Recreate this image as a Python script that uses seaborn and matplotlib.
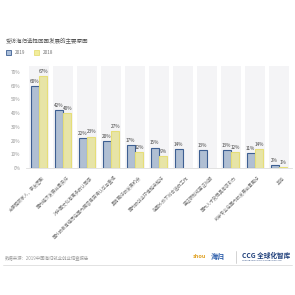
import numpy as np
import pandas as pd
import seaborn as sns
import matplotlib.pyplot as plt
import matplotlib.transforms as mtransforms

# dados do grafico
reasons = ['方便照顾家人，亲友团聚', '国内经济发展前景良好', '对中国文化有更多的认同感',
           '国外的教育经历在国内更容易获得认可与重视', '具有更好的发展机会', '国内的创业环境越来越好',
           '在国外找不到合适的工作', '签证限制或签证到期', '国内人才政策具有吸引力',
           '所学专业在国内的发展前景更好', '其他']
years = ['2019', '2018']
pct_2019 = [60, 42, 22, 20, 17, 15, 14, 13, 13, 11, 2]
pct_2018 = [67, 40, 23, 27, 12, 9, np.nan, np.nan, 12, 14, 1]
y_ticks = [0, 10, 20, 30, 40, 50, 60, 70]

df = pd.DataFrame({
    'reason': reasons * 2,
    'year': [years[0]] * len(reasons) + [years[1]] * len(reasons),
    'pct': pct_2019 + pct_2018,
})

sns.set_theme(style='white')
plt.rcParams['font.family'] = ['Noto Sans CJK SC', 'DejaVu Sans']

fills = ['#aabed9', '#f2ed9c']
edges = ['#3d5f92', '#e6de78']

fig = plt.figure(figsize=(2.95, 2.95), dpi=100)
ax = fig.add_axes([0.088, 0.43, 0.902, 0.345])

# faixas cinza atras de cada categoria
for i in range(len(reasons)):
    ax.axvspan(i - 0.42, i + 0.42, color='#f4f4f6', zorder=0, lw=0)

sns.barplot(data=df, x='reason', y='pct', hue='year', palette=fills,
            width=0.72, gap=0.08, ax=ax, legend=False, zorder=2)

for cont, ec in zip(ax.containers, edges):
    for p in cont:
        if p is None:
            continue
        p.set_edgecolor(ec)
        p.set_linewidth(0.8)
        h = p.get_height()
        if np.isnan(h):
            continue
        ax.annotate(f'{int(round(h))}%', (p.get_x() + p.get_width() / 2, h),
                    xytext=(0, 1.5), textcoords='offset points', ha='center', va='bottom',
                    fontsize=3.4, color='#444444')

ax.set_xlim(-0.55, len(reasons) - 0.45)
ax.set_ylim(0, 74)
ax.set_yticks(y_ticks)
ax.set_yticklabels([f'{t}%' for t in y_ticks], fontsize=3.4, color='#999999')
ax.set_xticks(range(len(reasons)))
ax.set_xticklabels(reasons, rotation=45, ha='right', rotation_mode='anchor',
                   fontsize=3.2, color='#777777')
ax.tick_params(axis='x', length=0, pad=5)
ax.tick_params(axis='y', length=0, pad=4)
shift = mtransforms.ScaledTranslation(3 / 100, 0, fig.dpi_scale_trans)
for lab in ax.get_xticklabels():
    lab.set_transform(lab.get_transform() + shift)
ax.set_xlabel('')
ax.set_ylabel('')
sns.despine(ax=ax, left=True, top=True, right=True)
ax.spines['bottom'].set_color('#dddddd')
ax.spines['bottom'].set_linewidth(0.6)

# titulo e legenda
fig.text(0.02, 0.862, '受访海归选择回国发展的主要原因', fontsize=4.0, color='#555555', va='center')
for k, (yr, fc, ec) in enumerate(zip(years, fills, edges)):
    x0 = 0.02 + k * 0.095
    fig.patches.append(plt.Rectangle((x0, 0.812), 0.018, 0.018, transform=fig.transFigure,
                                     facecolor=fc, edgecolor=ec, lw=0.6))
    fig.text(x0 + 0.03, 0.821, yr, fontsize=3.4, color='#777777', va='center')

# rodape
fig.text(0.015, 0.125, '数据来源：2019中国海归就业创业调查报告', fontsize=3.2, color='#999999', va='center')
fig.text(0.655, 0.13, 'shou', fontsize=4, color='#e0a020', style='italic', weight='bold', va='center')
fig.text(0.715, 0.13, '海归', fontsize=5, color='#2a5caa', weight='bold', va='center')
fig.add_artist(plt.Line2D([0.8, 0.8], [0.11, 0.15], transform=fig.transFigure, color='#cccccc', lw=0.6))
fig.text(0.82, 0.135, 'CCG 全球化智库', fontsize=4.8, color='#1f3f7a', weight='bold', va='center')
fig.text(0.82, 0.117, 'CENTER FOR CHINA & GLOBALIZATION', fontsize=1.6, color='#1f3f7a', va='center')
fig.add_artist(plt.Line2D([0.01, 0.99], [0.102, 0.102], transform=fig.transFigure, color='#dddddd', lw=0.6))

fig.savefig('out.png', dpi=100, facecolor='white')
